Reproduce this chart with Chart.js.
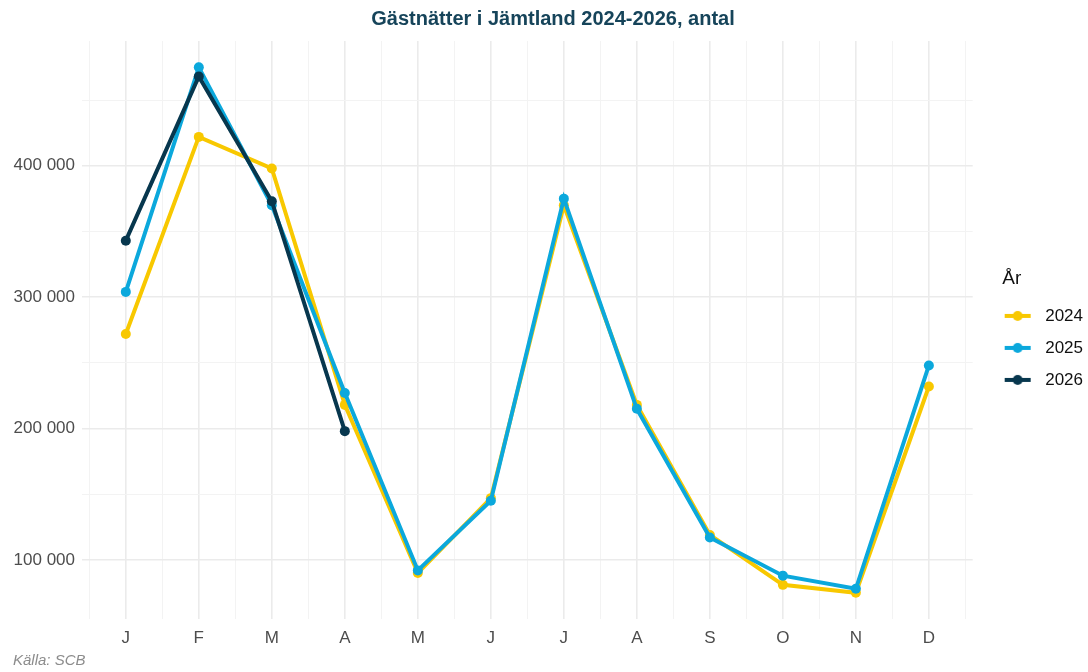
<!DOCTYPE html>
<html>
<head>
<meta charset="utf-8">
<script src="https://cdn.jsdelivr.net/npm/chart.js@4"></script>
<style>
  html, body { margin: 0; padding: 0; background: #fff; }
  #wrap { width: 1088px; height: 672px; }
</style>
</head>
<body>
<div id="wrap"><canvas id="gastChart"></canvas></div>
<script>
// Data
const months = ['J', 'F', 'M', 'A', 'M', 'J', 'J', 'A', 'S', 'O', 'N', 'D'];
const years = ['2024', '2025', '2026'];
const nights2024 = [272000, 422000, 398000, 218000, 90000, 147000, 370000, 218000, 119000, 81000, 75000, 232000];
const nights2025 = [304000, 475000, 370000, 227000, 92000, 145000, 375000, 215000, 117000, 88000, 78000, 248000];
const nights2026 = [343000, 468000, 373000, 198000];
const colors = ['#F8C800', '#0BA8DC', '#07374E'];
const yLabelTicks = [100000, 200000, 300000, 400000];
const yGridTicks = [100000, 150000, 200000, 250000, 300000, 350000, 400000, 450000];

const FONT = '"Liberation Sans", Arial, sans-serif';

// liten bild för legenden: linje med punkt i mitten
function legendSymbol(color) {
    const c = document.createElement('canvas');
    c.width = 49; c.height = 12;
    const g = c.getContext('2d');
    g.strokeStyle = color;
    g.lineWidth = 4;
    g.beginPath(); g.moveTo(17, 6); g.lineTo(43, 6); g.stroke();
    g.fillStyle = color;
    g.beginPath(); g.arc(30, 6, 5, 0, Math.PI * 2); g.fill();
    return c;
}

function toPoints(arr) {
    return arr.map((v, i) => ({ x: i + 1, y: v }));
}

function fmt(v) {
    return String(v).replace(/\B(?=(\d{3})+(?!\d))/g, ' ');
}

const series = [nights2024, nights2025, nights2026];
const datasets = series.map((arr, i) => ({
    label: years[i],
    data: toPoints(arr),
    borderColor: colors[i],
    backgroundColor: colors[i],
    borderWidth: 4,
    pointRadius: 5,
    pointHoverRadius: 5,
    pointBorderWidth: 0,
    tension: 0,
    order: 2 - i
}));

const symbols = colors.map(legendSymbol);

const ctx = document.getElementById('gastChart').getContext('2d');
const gastChart = new Chart(ctx, {
    type: 'line',
    data: { datasets: datasets },
    options: {
        responsive: true,
        maintainAspectRatio: false,
        animation: false,
        layout: { padding: { left: 13, right: -5, top: 0, bottom: 0 } },
        plugins: {
            title: {
                display: true,
                text: 'Gästnätter i Jämtland 2024-2026, antal',
                color: '#16445A',
                font: { family: FONT, size: 20, weight: 'bold' },
                padding: { top: 7, bottom: 10 }
            },
            subtitle: {
                display: true,
                position: 'bottom',
                align: 'start',
                text: 'Källa: SCB',
                color: '#8C8C8C',
                font: { family: FONT, size: 15, style: 'italic' },
                padding: { top: 6, bottom: 2 }
            },
            legend: {
                position: 'right',
                align: 'center',
                title: {
                    display: true,
                    text: '     \u2006År',
                    color: '#111',
                    position: 'start',
                    font: { family: FONT, size: 19 },
                    padding: { top: 1, bottom: 0 }
                },
                labels: {
                    color: '#1A1A1A',
                    font: { family: FONT, size: 17 },
                    usePointStyle: true,
                    pointStyleWidth: 49,
                    padding: 15,
                    generateLabels: chart => chart.data.datasets.map((ds, i) => ({
                        text: ds.label,
                        pointStyle: symbols[i],
                        fillStyle: colors[i],
                        strokeStyle: colors[i],
                        lineWidth: 0,
                        hidden: false,
                        datasetIndex: i
                    }))
                }
            },
            tooltip: { enabled: false }
        },
        scales: {
            x: {
                type: 'linear',
                min: 0.4,
                max: 12.6,
                border: { display: false },
                afterBuildTicks: scale => {
                    scale.ticks = [];
                    for (let i = 0; i <= months.length; i++) {
                        scale.ticks.push({ value: i + 0.5 });
                        if (i < months.length) scale.ticks.push({ value: i + 1 });
                    }
                },
                afterFit: scale => { scale.height = 27; },
                grid: {
                    drawTicks: false,
                    color: c => Number.isInteger(c.tick.value) ? '#EBEBEB' : '#F3F3F3',
                    lineWidth: c => Number.isInteger(c.tick.value) ? 1.6 : 1
                },
                ticks: {
                    autoSkip: false,
                    maxRotation: 0,
                    padding: 9,
                    color: '#4D4D4D',
                    font: { family: FONT, size: 17 },
                    callback: v => Number.isInteger(v) ? months[v - 1] : ''
                }
            },
            y: {
                min: 55000,
                max: 495000,
                border: { display: false },
                afterBuildTicks: scale => {
                    scale.ticks = yGridTicks.map(v => ({ value: v }));
                },
                afterFit: scale => { scale.width = 69; },
                grid: {
                    drawTicks: false,
                    color: c => yLabelTicks.includes(c.tick.value) ? '#EBEBEB' : '#F3F3F3',
                    lineWidth: c => yLabelTicks.includes(c.tick.value) ? 1.6 : 1
                },
                ticks: {
                    padding: 7,
                    color: '#4D4D4D',
                    font: { family: FONT, size: 17 },
                    callback: v => yLabelTicks.includes(v) ? fmt(v) : ''
                }
            }
        }
    }
});
</script>
</body>
</html>
